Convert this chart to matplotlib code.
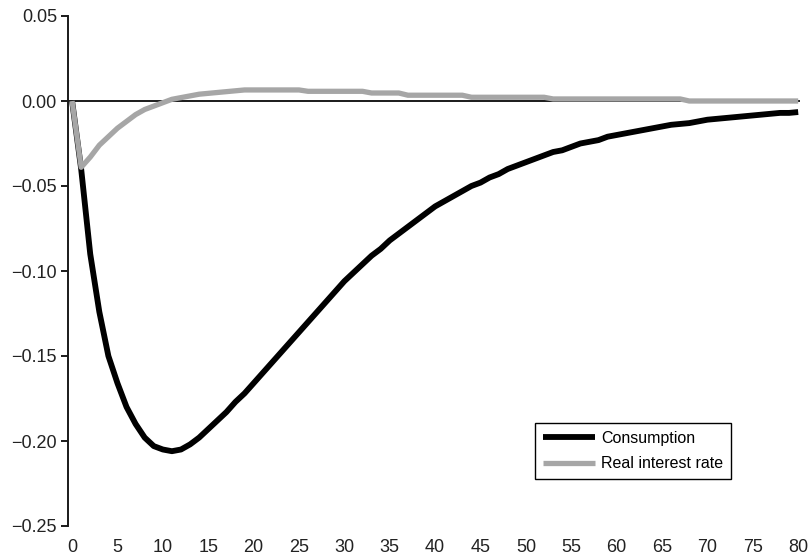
import matplotlib
matplotlib.use("Agg")
import matplotlib.pyplot as plt
import numpy as np

periods = list(range(0, 81))

consumption = [
    0.000, -0.040, -0.090, -0.124, -0.150, -0.166, -0.180, -0.190, -0.198, -0.203,
    -0.205, -0.206, -0.205, -0.202, -0.198, -0.193, -0.188, -0.183, -0.177, -0.172,
    -0.166, -0.160, -0.154, -0.148, -0.142, -0.136, -0.130, -0.124, -0.118, -0.112,
    -0.106, -0.101, -0.096, -0.091, -0.087, -0.082, -0.078, -0.074, -0.070, -0.066,
    -0.062, -0.059, -0.056, -0.053, -0.050, -0.048, -0.045, -0.043, -0.040, -0.038,
    -0.036, -0.034, -0.032, -0.030, -0.029, -0.027, -0.025, -0.024, -0.023, -0.021,
    -0.020, -0.019, -0.018, -0.017, -0.016, -0.015, -0.014, -0.0135, -0.013, -0.012,
    -0.011, -0.0105, -0.010, -0.0095, -0.009, -0.0085, -0.008, -0.0075, -0.007, -0.007,
    -0.0065,
]

real_rate = [
    0.000, -0.039, -0.033, -0.026, -0.021, -0.016, -0.012, -0.008, -0.005, -0.003,
    -0.001, 0.001, 0.002, 0.003, 0.004, 0.0045, 0.005, 0.0055, 0.006, 0.0065,
    0.0065, 0.0065, 0.0065, 0.0065, 0.0065, 0.0065, 0.0057, 0.0057, 0.0057, 0.0057,
    0.0057, 0.0057, 0.0057, 0.0047, 0.0047, 0.0047, 0.0047, 0.0034, 0.0034, 0.0034,
    0.0034, 0.0034, 0.0034, 0.0034, 0.0022, 0.0022, 0.0022, 0.0022, 0.0022, 0.0022,
    0.0022, 0.0022, 0.0022, 0.0012, 0.0012, 0.0012, 0.0012, 0.0012, 0.0012, 0.0012,
    0.0012, 0.0012, 0.0012, 0.0012, 0.0012, 0.0012, 0.0012, 0.0012, 0.000, 0.000,
    0.000, 0.000, 0.000, 0.000, 0.000, 0.000, 0.000, 0.000, 0.000, 0.000,
    0.000,
]

x_ticks = list(range(0, 81, 5))
y_ticks = [0.05, 0.00, -0.05, -0.10, -0.15, -0.20, -0.25]

plt.rcParams['font.family'] = ['Liberation Sans', 'DejaVu Sans']

fig = plt.figure(figsize=(8.09, 5.58), dpi=100)
ax = fig.add_axes([68 / 809, 1 - 526 / 558, (800 - 68) / 809, (526 - 16) / 558])

ax.axhline(0, color='#1a1a1a', lw=1.4, zorder=1)
ax.plot(periods, consumption, color='black', lw=4.2, solid_capstyle='butt',
        solid_joinstyle='round', label='Consumption', zorder=2)
ax.plot(periods, real_rate, color='#a6a6a6', lw=3.8, solid_capstyle='butt',
        solid_joinstyle='round', label='Real interest rate', zorder=3)

ax.set_xlim(-0.45, 80.2)
ax.set_ylim(-0.25, 0.05)
ax.set_xticks(x_ticks)
ax.set_yticks(y_ticks)
ax.set_yticklabels([f"{v:.2f}".replace('-', '\u2212') for v in y_ticks])

for s in ['top', 'right', 'bottom']:
    ax.spines[s].set_visible(False)
ax.spines['left'].set_linewidth(1.4)
ax.spines['left'].set_color('#1a1a1a')

ax.tick_params(axis='y', direction='out', length=5, width=1.4, color='#1a1a1a',
               labelsize=13, pad=3, labelcolor='#222222')
ax.tick_params(axis='x', length=0, labelsize=13, pad=9, labelcolor='#222222')

leg = ax.legend(loc='upper left', bbox_to_anchor=(535 / 809, 1 - 423 / 558),
                bbox_transform=fig.transFigure, borderaxespad=0,
                fontsize=11.5, handlelength=3.25, handletextpad=0.4,
                labelspacing=0.65, borderpad=0.5, fancybox=False, framealpha=1)
leg.get_frame().set_edgecolor('black')
leg.get_frame().set_linewidth(1.0)

fig.savefig('out.png', dpi=100)
